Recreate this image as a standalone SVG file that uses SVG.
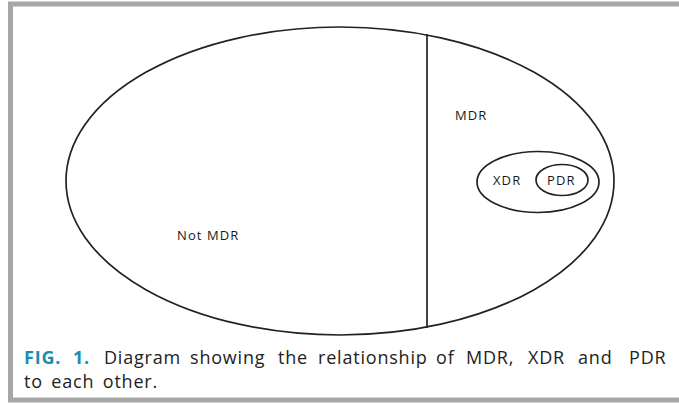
<svg xmlns="http://www.w3.org/2000/svg" width="679" height="403" viewBox="0 0 679 403">
<style>
.shape{fill:none;stroke:#222;stroke-width:1.7}
.lbl{font-family:"Open Sans","Liberation Sans",sans-serif;font-size:13px;letter-spacing:1.1px;fill:#1a1a1a}
.cap{font-family:"Open Sans","Liberation Sans",sans-serif;font-size:18px;letter-spacing:0.8px;fill:#222}
.fig{fill:#1b8db3;font-weight:bold}
</style>
<rect x="0" y="0" width="679" height="403" fill="#fff"/>
<rect x="10.5" y="4" width="700" height="396" fill="none" stroke="#a6a6a6" stroke-width="5"/>
<g id="all">
<ellipse class="shape" cx="340" cy="181" rx="274" ry="154"/>
<text class="lbl" x="177" y="240">Not MDR</text>
</g>
<g id="connectors">
<line class="shape" x1="427" y1="34" x2="427" y2="328" stroke-width="1.3"/>
</g>
<g id="mdr">
<text class="lbl" x="455" y="120">MDR</text>
</g>
<g id="xdr">
<ellipse class="shape" cx="538" cy="182" rx="61" ry="30.5"/>
<text class="lbl" x="493" y="185">XDR</text>
</g>
<g id="pdr">
<ellipse class="shape" cx="562" cy="180" rx="26" ry="15.5"/>
<text class="lbl" x="547" y="185">PDR</text>
</g>
<g id="caption">
<text class="cap" y="364"><tspan class="fig" x="24">FIG.</tspan><tspan class="fig" x="73">1.</tspan><tspan x="104">Diagram</tspan><tspan x="190">showing</tspan><tspan x="278">the</tspan><tspan x="318">relationship</tspan><tspan x="436">of</tspan><tspan x="466">MDR,</tspan><tspan x="528">XDR</tspan><tspan x="578">and</tspan><tspan x="629">PDR</tspan></text>
<text class="cap" x="24" y="388" word-spacing="3">to each other.</text>
</g>
</svg>
